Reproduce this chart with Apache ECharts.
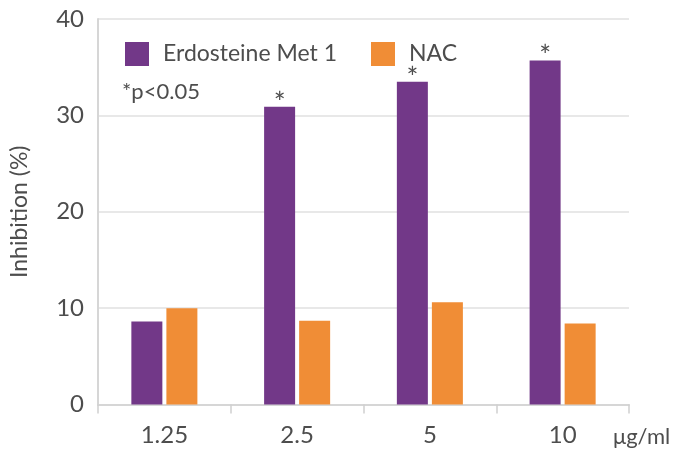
<!DOCTYPE html>
<html>
<head>
<meta charset="utf-8">
<script src="https://cdn.jsdelivr.net/npm/echarts@6/dist/echarts.min.js"></script>
<style>
  html, body { margin: 0; padding: 0; background: #fff; }
  #chart { width: 680px; height: 452px; }
</style>
</head>
<body>
<div id="chart"></div>
<script>
// Concentrations tested (μg/ml)
const categories = ['1.25', '2.5', '5', '10'];
// Inhibition (%) for each compound
const erdosteineValues = [8.6, 30.9, 33.5, 35.7];
const nacValues = [10.0, 8.7, 10.6, 8.4];
// Significance flags (p<0.05) for Erdosteine Met 1
const erdosteineSignificant = [false, true, true, true];
// Y-axis ticks
const yTicks = [0, 10, 20, 30, 40];

const FONT = 'Lato, "Open Sans", sans-serif';
const TEXT = '#4d4d4d';
const PURPLE = '#723888';
const ORANGE = '#F08D36';

const chart = echarts.init(document.getElementById('chart'), null, { renderer: 'canvas' });

chart.setOption({
  animation: false,
  backgroundColor: '#ffffff',
  textStyle: { fontFamily: FONT, color: TEXT },
  grid: { left: 97, right: 51, top: 19, bottom: 47.5 },
  legend: {
    left: 120,
    top: 37,
    icon: 'rect',
    itemWidth: 24,
    itemHeight: 24,
    itemGap: 34,
    textStyle: { fontFamily: FONT, fontSize: 23, color: TEXT, padding: [0, 0, 0, 9] },
    data: ['Erdosteine Met 1', 'NAC']
  },
  graphic: [{
    type: 'text',
    left: 122,
    top: 81,
    style: { text: '*p<0.05', fontFamily: FONT, fontSize: 22, fill: TEXT }
  }],
  xAxis: {
    type: 'category',
    data: categories,
    name: 'μg/ml',
    nameLocation: 'end',
    nameGap: -16,
    nameTextStyle: { fontFamily: FONT, fontSize: 22, color: TEXT, verticalAlign: 'top', align: 'left', padding: [21, 0, 0, 0] },
    axisLine: { lineStyle: { color: '#d6d6d6', width: 2 } },
    axisTick: { show: true, length: 9, lineStyle: { color: '#d0d0d0', width: 1.5 } },
    axisLabel: { fontFamily: FONT, fontSize: 24, color: TEXT, margin: 19 }
  },
  yAxis: {
    type: 'value',
    min: yTicks[0],
    max: yTicks[yTicks.length - 1],
    interval: 10,
    name: 'Inhibition (%)',
    nameLocation: 'middle',
    nameGap: 67,
    nameRotate: 90,
    nameTextStyle: { fontFamily: FONT, fontSize: 23, color: TEXT },
    axisLine: { show: true, lineStyle: { color: '#d6d6d6', width: 2 } },
    axisTick: { show: false },
    axisLabel: { fontFamily: FONT, fontSize: 24, color: TEXT, margin: 14 },
    splitLine: { lineStyle: { color: '#e0e0e0', width: 1.5 } }
  },
  series: [
    {
      name: 'Erdosteine Met 1',
      type: 'bar',
      data: erdosteineValues,
      barWidth: 31,
      barGap: '13%',
      itemStyle: { color: PURPLE },
      label: {
        show: true,
        position: 'top',
        distance: -11,
        fontFamily: FONT,
        fontSize: 28,
        color: TEXT,
        formatter: p => (erdosteineSignificant[p.dataIndex] ? '*' : '')
      }
    },
    {
      name: 'NAC',
      type: 'bar',
      data: nacValues,
      barWidth: 31,
      itemStyle: { color: ORANGE }
    }
  ]
});
</script>
</body>
</html>
